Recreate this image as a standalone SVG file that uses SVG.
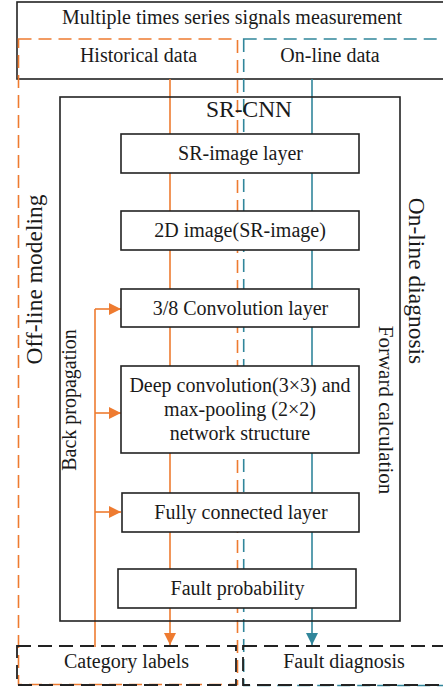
<svg xmlns="http://www.w3.org/2000/svg" width="443" height="692" viewBox="0 0 443 692">
  <defs>
    <marker id="ah-orange" viewBox="0 0 12 12" refX="12" refY="6" markerWidth="12" markerHeight="12" markerUnits="userSpaceOnUse" orient="auto">
      <path d="M0,0 L12,6 L0,12 Z" fill="#EE7B30"/>
    </marker>
    <marker id="ah-teal" viewBox="0 0 12 12" refX="12" refY="6" markerWidth="12" markerHeight="12" markerUnits="userSpaceOnUse" orient="auto">
      <path d="M0,0 L12,6 L0,12 Z" fill="#31869B"/>
    </marker>
  </defs>
  <style>
    text { font-family: "Liberation Serif", "Times New Roman", serif; font-size: 20px; fill: #1a1a1a; text-anchor: middle; }
    .big { font-size: 23.5px; }
    .box { fill: #ffffff; stroke: #222222; stroke-width: 1.6; }
    .frame { fill: none; stroke: #222222; stroke-width: 1.6; }
    .dash-o { fill: none; stroke: #EE7B30; stroke-width: 1.6; stroke-dasharray: 13 7; }
    .dash-t { fill: none; stroke: #31869B; stroke-width: 1.6; stroke-dasharray: 13 7; }
    .dash-k { fill: none; stroke: #222222; stroke-width: 1.8; stroke-dasharray: 14 7; }
    .flow-o { fill: none; stroke: #EE7B30; stroke-width: 1.6; }
    .flow-t { fill: none; stroke: #31869B; stroke-width: 1.6; }
  </style>

  <rect width="443" height="692" fill="#ffffff"/>

  <!-- measurement source box -->
  <g id="measurement">
    <rect class="frame" x="17" y="2" width="440" height="77"/>
    <text x="232" y="24">Multiple times series signals measurement</text>
  </g>

  <!-- off-line / on-line regions -->
  <g id="offline-region">
    <rect class="dash-o" x="18.5" y="39" width="219" height="645.5"/>
    <text x="138.5" y="62">Historical data</text>
    <text class="big" transform="translate(42,279.5) rotate(-90)">Off-line modeling</text>
  </g>
  <g id="online-region">
    <rect class="dash-t" x="243.7" y="39" width="220" height="646.5"/>
    <text x="330" y="62">On-line data</text>
    <text class="big" transform="translate(409,281) rotate(90)">On-line diagnosis</text>
  </g>

  <!-- connectors -->
  <g id="connectors">
    <line class="flow-o" x1="170" y1="79" x2="170" y2="645" marker-end="url(#ah-orange)"/>
    <line class="flow-t" x1="312" y1="79" x2="312" y2="645" marker-end="url(#ah-teal)"/>
    <path class="flow-o" d="M95,647 V309"/>
    <line class="flow-o" x1="95" y1="309" x2="121" y2="309" marker-end="url(#ah-orange)"/>
    <line class="flow-o" x1="95" y1="413" x2="121" y2="413" marker-end="url(#ah-orange)"/>
    <line class="flow-o" x1="95" y1="512" x2="121" y2="512" marker-end="url(#ah-orange)"/>
    <text transform="translate(76,400) rotate(-90)">Back propagation</text>
    <text transform="translate(379,410) rotate(90)" style="font-size:21px">Forward calculation</text>
  </g>

  <!-- SR-CNN container -->
  <g id="sr-cnn">
    <rect class="frame" x="60" y="97" width="340" height="524"/>
    <text class="big" x="249" y="117">SR-CNN</text>
  </g>

  <g id="sr-image-layer">
    <rect class="box" x="121" y="134" width="238" height="39"/>
    <text x="240.5" y="160">SR-image layer</text>
  </g>
  <g id="image-2d">
    <rect class="box" x="121" y="211" width="238" height="39"/>
    <text x="240" y="237">2D image(SR-image)</text>
  </g>
  <g id="conv-layer">
    <rect class="box" x="121" y="289" width="238" height="38"/>
    <text x="240.5" y="315">3/8 Convolution layer</text>
  </g>
  <g id="deep-conv">
    <rect class="box" x="121" y="366" width="238" height="87"/>
    <text x="240" y="392">Deep convolution(3×3) and</text>
    <text x="240" y="416">max-pooling (2×2)</text>
    <text x="240" y="440">network structure</text>
  </g>
  <g id="fully-connected">
    <rect class="box" x="122" y="493" width="237" height="39"/>
    <text x="241" y="519">Fully connected layer</text>
  </g>
  <g id="fault-probability">
    <rect class="box" x="118" y="569" width="238" height="39"/>
    <text x="237.5" y="595">Fault probability</text>
  </g>

  <!-- outputs -->
  <g id="category-labels">
    <rect class="dash-k" x="17" y="646" width="219" height="39"/>
    <text x="126.5" y="668">Category labels</text>
  </g>
  <g id="fault-diagnosis">
    <rect class="dash-k" x="243" y="646" width="215" height="39"/>
    <text x="344" y="668">Fault diagnosis</text>
  </g>
</svg>
